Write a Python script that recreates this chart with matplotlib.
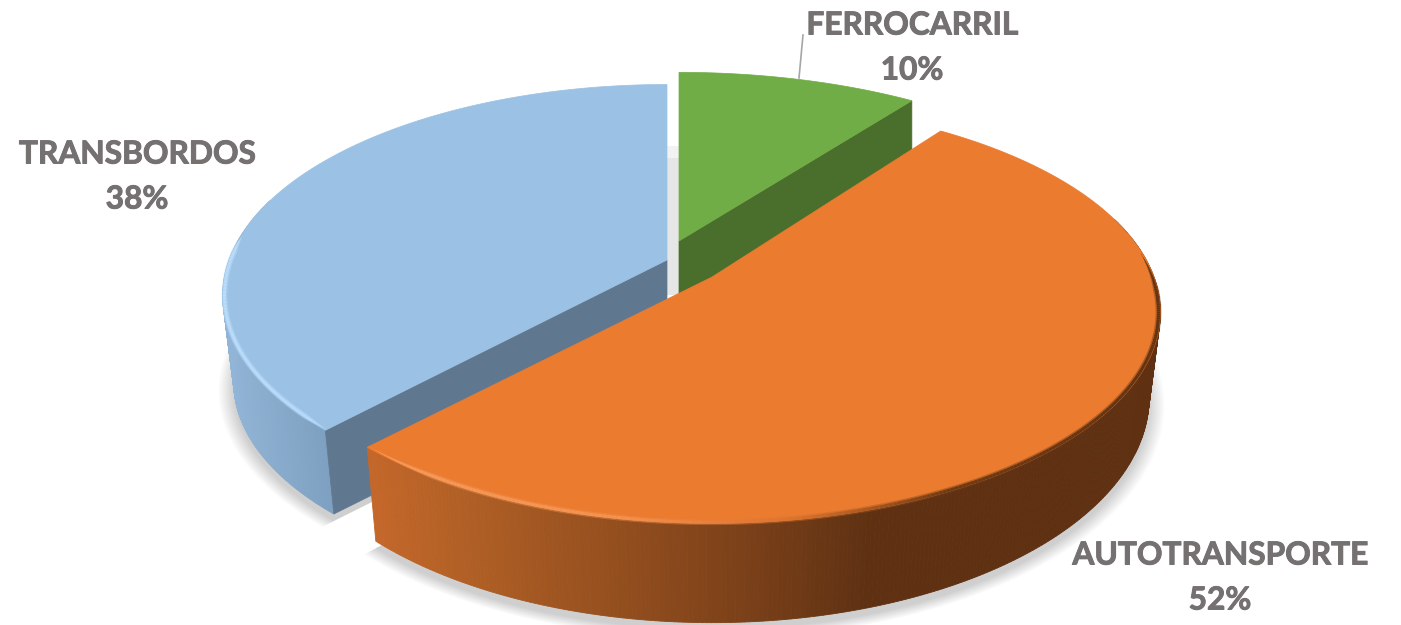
import numpy as np
import matplotlib.pyplot as plt
import matplotlib.patheffects as pe
from matplotlib.collections import LineCollection
from matplotlib.patches import Polygon

# Data
categories = ['FERROCARRIL', 'AUTOTRANSPORTE', 'TRANSBORDOS']
shares = [10, 52, 38]

# Look of each slice
top_colors = ['#70AD47', '#EA7B2F', '#9BC2E4']
cut_colors = ['#4A6E2B', '#5F3112', '#5F7890']
apex_x = [679, 712, 667]
apex_y = [241, 277, 260]
radius_x = [450, 442, 438]
radius_y = [197, 205, 205]
wall_depth = [60, 82, 88]
bottom_x = [1.0, 0.975, 0.975]
bottom_y = [0.975, 1.07, 0.975]
wall_stops = [
    ([600, 950], ['#4A6E2B', '#4A6E2B']),
    ([370, 480, 600, 740, 870, 1170], ['#C4672A', '#AD5E24', '#97501F', '#7C4119', '#5F3112', '#5F3112']),
    ([225, 330], ['#92B4D6', '#7C9FC0']),
]
rim_stops = [
    None,
    ([370, 620, 800, 950, 1170], ['#F79A5C', '#F59250', '#D9722C', '#6E3A15', '#5F3112']),
    ([225, 330], ['#BBDDFB', '#B5DAFB']),
]
visible_cut = [36.0, None, 223.2]
label_pos = [(912, 25), (1220, 555), (137, 154)]

PERSP = 0.168


def to_rgb(hexcolor):
    return np.array([int(hexcolor[i:i + 2], 16) / 255 for i in (1, 3, 5)])


def color_at(x, stops):
    xs, cols = stops
    rgb = np.array([to_rgb(c) for c in cols])
    return [np.interp(x, xs, rgb[:, j]) for j in range(3)]


def project(i, theta, r=1.0, bottom=False, grow=1.0):
    # theta in degrees, clockwise from 12 o'clock, seen with a perspective tilt
    t = np.radians(theta)
    u = r * np.sin(t)
    v = r * np.cos(t)
    w = 1 / (1 + PERSP * v)
    dx = radius_x[i] * u * w
    dy = radius_y[i] * v * w
    if bottom:
        dx = dx * bottom_x[i]
        dy = dy * bottom_y[i]
        return apex_x[i] + dx * grow, apex_y[i] + wall_depth[i] - dy * grow
    return apex_x[i] + dx, apex_y[i] - dy


def slice_outline(i, start, end, bottom=False, grow=1.0):
    th = np.linspace(start, end, 200)
    ax_, ay_ = project(i, th, bottom=bottom, grow=grow)
    cx, cy = project(i, 0.0, r=0.0, bottom=bottom)
    return np.column_stack([np.r_[cx, ax_], np.r_[cy, ay_]])


edges = np.cumsum([0] + shares) / sum(shares) * 360

fig = plt.figure(figsize=(14.01, 6.25), dpi=100)
ax = fig.add_axes([0, 0, 1, 1])
ax.set_xlim(0, 1401)
ax.set_ylim(625, 0)
ax.axis('off')

# soft shadow under the bottom of the slices
for grow in np.linspace(1.035, 1.0, 12):
    for i in [1, 2]:
        pts = slice_outline(i, edges[i], edges[i + 1], bottom=True, grow=grow)
        pts = pts + np.array([0, 7])
        ax.add_patch(Polygon(pts, closed=True, fc='#000000', ec='none', alpha=0.016, zorder=1))

# shadow seen through the gap between blue and green
ax.fill_between([apex_x[2], apex_x[0]], 158, 295, color='#E6E6E6', lw=0, zorder=1.2)
ax.fill_between([apex_x[2], apex_x[0]], 146, 158, color='#F2F2F2', lw=0, zorder=1.2)

# slices, back to front
for i in [2, 0, 1]:
    z = 2 + [2, 0, 1].index(i) * 3
    start, end = edges[i], edges[i + 1]
    th = np.linspace(start, end, 361)

    # outer wall, cut in thin strips to carry the gradient
    xt, yt = project(i, th)
    xb, yb = project(i, th, bottom=True)
    for j in range(len(th) - 1):
        if np.cos(np.radians(th[j])) > 0.3:
            continue
        quad = [(xt[j], yt[j]), (xt[j + 1], yt[j + 1]), (xb[j + 1], yb[j + 1]), (xb[j], yb[j])]
        col = color_at((xt[j] + xt[j + 1]) / 2, wall_stops[i])
        ax.add_patch(Polygon(quad, closed=True, fc=col, ec=col, lw=0.6, zorder=z))

    # the cut face that looks towards the viewer
    if visible_cut[i] is not None:
        edge = start if i == 2 else end
        ex, ey = project(i, edge)
        bx, by = project(i, edge, bottom=True)
        cx, cy = project(i, 0.0, r=0.0)
        cbx, cby = project(i, 0.0, r=0.0, bottom=True)
        face = [(cx, cy), (ex, ey), (bx, by), (cbx, cby)]
        ax.add_patch(Polygon(face, closed=True, fc=cut_colors[i], ec=cut_colors[i], lw=0.5, zorder=z + 0.5))

    # top face
    ax.add_patch(Polygon(slice_outline(i, start, end), closed=True, fc=top_colors[i],
                         ec=top_colors[i], lw=0.5, zorder=z + 1))

    # bevel along the front edge of the top face, thin at both ends
    if rim_stops[i] is not None:
        front = th[(np.cos(np.radians(th)) < 0.12)]
        rx, ry = project(i, front, r=0.996)
        segs = [[(rx[j], ry[j]), (rx[j + 1], ry[j + 1])] for j in range(len(front) - 1)]
        cols = [color_at(rx[j], rim_stops[i]) for j in range(len(front) - 1)]
        pos = np.linspace(0, 1, len(segs))
        taper = np.clip(np.minimum(pos, 1 - pos) * 14, 0.05, 1)
        ax.add_collection(LineCollection(segs, colors=cols, linewidths=4.2 * taper, alpha=0.4, zorder=z + 1.2))
        ax.add_collection(LineCollection(segs, colors=cols, linewidths=2.2 * taper, zorder=z + 1.3))

# labels
thick = [pe.withStroke(linewidth=0.7, foreground='#767171')]
for name, val, (lx, ly) in zip(categories, shares, label_pos):
    ax.text(lx, ly, name, ha='center', va='center', fontsize=22.8, fontweight='bold',
            family='Lato', color='#767171', zorder=30, path_effects=thick)
    ax.text(lx, ly + 45, f'{val}%', ha='center', va='center', fontsize=22.8, fontweight='bold',
            family='Lato', color='#767171', zorder=30, path_effects=thick)

# leader line of the small slice
ax.plot([803, 799], [35, 78], color='#A6A6A6', lw=1.2, zorder=1.5)

fig.savefig('out.png', dpi=100)
